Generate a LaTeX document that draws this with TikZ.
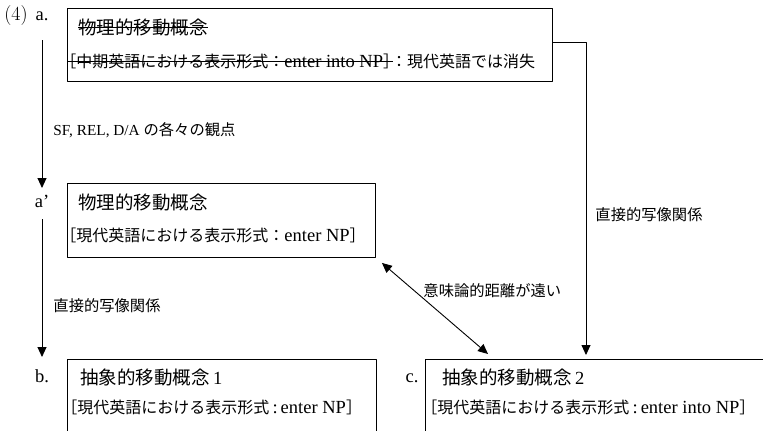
\documentclass[tikz,border=0pt]{standalone}
\usepackage{fontspec}
\newfontfamily\jp{Noto Sans CJK JP}
\newfontfamily\tm{Liberation Serif}
\newcommand\chutay[1]{{\tm\fontsize{18.5}{20}\selectfont #1}}
\usetikzlibrary{arrows.meta,positioning}
\tikzset{
	khung/.style={draw, anchor=north west, inner sep=0pt},
	tieude/.style={anchor=west, inner sep=0pt, font=\jp\fontsize{18.5}{20}\selectfont},
	dong/.style={anchor=west, inner sep=0pt, font=\jp\fontsize{16}{18}\selectfont},
	nhan/.style={anchor=west, inner sep=0pt, font=\jp\fontsize{15.3}{18}\selectfont},
	chiso/.style={anchor=base, inner sep=0pt, font=\tm\fontsize{18.5}{20}\selectfont},
}
\begin{document}
\begin{tikzpicture}[x=1pt,y=-1pt,line width=.9pt,line join=round,>={Triangle[length=10pt,width=9pt]}]
	%%Khung hình
	\useasboundingbox (0,0) rectangle (763,431);
	%%Các khung
	\node[khung, minimum width=485pt, minimum height=73pt] (a) at (67,8) {};
	\node[khung, minimum width=308pt, minimum height=74pt] (ap) at (67,183) {};
	\node[khung, minimum width=309pt, minimum height=74pt] (b) at (67,359) {};
	\node[khung, minimum width=345pt, minimum height=74pt] (c) at (425,359) {};
	%%Chỉ số
	\node[chiso, font=\rmfamily\fontsize{20}{22}\selectfont] (so) at (16,20) {(4)};
	\node[chiso] (la) at (42,20) {a.};
	\node[chiso] (lap) at (42,207) {a’};
	\node[chiso] (lb) at (42,382) {b.};
	\node[chiso] (lc) at (412,382) {c.};
	%%Nội dung khung
	\node[tieude] (a1) at (78,27) {物理的移動概念};
	\node[dong] (a2) at (60,61) {［中期英語における表示形式：\chutay{enter into NP}］};
	\node[dong, right=-9pt of a2] (a3) {：現代英語では消失};
	\draw[line width=.8pt] (a1.west) -- (a1.east);
	\draw[line width=.8pt] (a.west |- a2.west) -- ([xshift=-7pt]a2.east);
	\node[tieude] (ap1) at (78,202) {物理的移動概念};
	\node[dong] (ap2) at (60,235) {［現代英語における表示形式：\chutay{enter NP}］};
	\node[tieude] (b1) at (80,377) {抽象的移動概念\chutay{\,1}};
	\node[dong] (b2) at (61,407) {［現代英語における表示形式\chutay{\,:\,enter NP}］};
	\node[tieude] (c1) at (442,377) {抽象的移動概念\chutay{\,2}};
	\node[dong] (c2) at (421,407) {［現代英語における表示形式\chutay{\,:\,enter into NP}］};
	%%Nhãn mũi tên
	\node[nhan] (n1) at (53,130) {{\tm SF, REL, D/A }の各々の観点};
	\node[nhan] (n2) at (53,306) {直接的写像関係};
	\node[nhan] (n3) at (595,215) {直接的写像関係};
	\node[nhan] (n4) at (423,291) {意味論的距離が遠い};
	%%Mũi tên
	\draw[->] ([yshift=-20pt]la.base) -- ([yshift=19pt]lap.base);
	\draw[->] ([yshift=-12pt]lap.base) -- ([yshift=25pt]lb.base);
	\draw[->] ([yshift=-34pt]a.north east) -| ([xshift=161pt,yshift=4pt]c.north west);
	\draw[<->] ([shift={(6pt,-5pt)}]ap.south east) -- ([shift={(63pt,5pt)}]c.north west);
\end{tikzpicture}
\end{document}
